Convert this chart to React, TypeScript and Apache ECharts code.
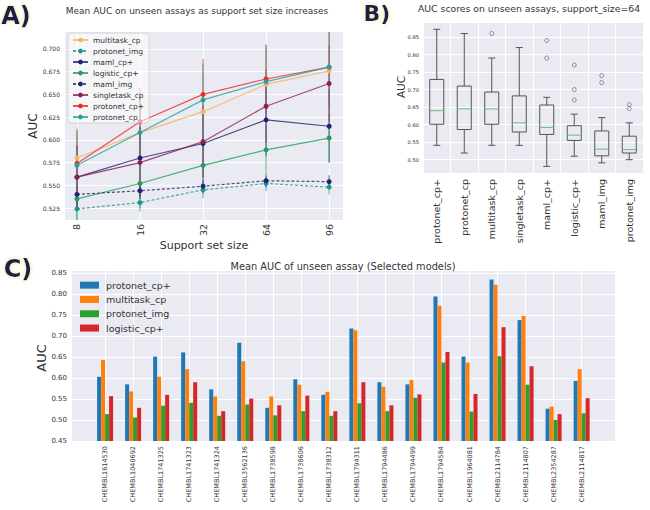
import React, { useEffect, useRef } from 'react';
import * as echarts from 'echarts';

const FONT = 'DejaVu Sans';

// ---------- Panel A ----------
const supportSizes = ['8', '16', '32', '64', '96'];
const modelsA = ['multitask_cp', 'protonet_img', 'maml_cp+', 'logistic_cp+', 'maml_img', 'singletask_cp', 'protonet_cp+', 'protonet_cp'];
const multitaskCp = [0.580, 0.608, 0.631, 0.661, 0.676];
const protonetImg = [0.524, 0.531, 0.545, 0.552, 0.548];
const mamlCpPlus = [0.559, 0.580, 0.596, 0.622, 0.615];
const logisticCpPlus = [0.535, 0.552, 0.572, 0.589, 0.602];
const mamlImg = [0.540, 0.544, 0.549, 0.555, 0.554];
const singletaskCp = [0.559, 0.575, 0.598, 0.637, 0.662];
const protonetCpPlus = [0.574, 0.620, 0.650, 0.667, 0.680];
const protonetCp = [0.572, 0.608, 0.644, 0.664, 0.680];

const multitaskCpStd = [0.034, 0.038, 0.040, 0.040, 0.042];
const protonetImgStd = [0.012, 0.010, 0.009, 0.008, 0.008];
const mamlCpPlusStd = [0.035, 0.035, 0.038, 0.040, 0.040];
const logisticCpPlusStd = [0.025, 0.027, 0.028, 0.027, 0.027];
const mamlImgStd = [0.010, 0.009, 0.008, 0.007, 0.007];
const singletaskCpStd = [0.035, 0.038, 0.040, 0.040, 0.042];
const protonetCpPlusStd = [0.036, 0.037, 0.039, 0.038, 0.040];
const protonetCpStd = [0.040, 0.040, 0.040, 0.040, 0.040];

const colorsA = ['#f9b162', '#1d978a', '#22226e', '#279a62', '#22226e', '#8c1f56', '#ec2a2a', '#2b9f9f'];
const dashedA = [false, true, false, false, true, false, false, false];
const yTicksA = [0.525, 0.55, 0.575, 0.6, 0.625, 0.65, 0.675, 0.7];

// ---------- Panel B ----------
const boxModels = ['protonet_cp+', 'protonet_cp', 'multitask_cp', 'singletask_cp', 'maml_cp+', 'logistic_cp+', 'maml_img', 'protonet_img'];
const boxMin = [0.541, 0.519, 0.541, 0.541, 0.481, 0.510, 0.491, 0.500];
const boxQ1 = [0.601, 0.586, 0.601, 0.579, 0.572, 0.555, 0.511, 0.519];
const boxMedian = [0.640, 0.645, 0.645, 0.605, 0.592, 0.570, 0.530, 0.529];
const boxQ3 = [0.729, 0.710, 0.693, 0.682, 0.656, 0.597, 0.582, 0.567];
const boxMax = [0.872, 0.860, 0.790, 0.820, 0.678, 0.630, 0.620, 0.605];
const outlierCats = [2, 4, 4, 5, 5, 5, 6, 6, 7, 7];
const outlierValues = [0.860, 0.840, 0.790, 0.770, 0.700, 0.670, 0.740, 0.720, 0.657, 0.646];
const yTicksB = [0.5, 0.55, 0.6, 0.65, 0.7, 0.75, 0.8, 0.85];

// ---------- Panel C ----------
const chemblIds = ['CHEMBL1614530', 'CHEMBL1040692', 'CHEMBL1741325', 'CHEMBL1741323', 'CHEMBL1741324', 'CHEMBL3562136', 'CHEMBL1738598', 'CHEMBL1738606', 'CHEMBL1738312', 'CHEMBL1794311', 'CHEMBL1794486', 'CHEMBL1794499', 'CHEMBL1794584', 'CHEMBL1964081', 'CHEMBL2114784', 'CHEMBL2114807', 'CHEMBL2354287', 'CHEMBL2114817'];
const modelsC = ['protonet_cp+', 'multitask_cp', 'protonet_img', 'logistic_cp+'];
const protonetCpPlusC = [0.603, 0.585, 0.651, 0.661, 0.573, 0.684, 0.529, 0.597, 0.560, 0.718, 0.590, 0.585, 0.794, 0.651, 0.835, 0.738, 0.527, 0.593];
const multitaskCpC = [0.643, 0.568, 0.603, 0.621, 0.556, 0.640, 0.556, 0.584, 0.567, 0.714, 0.579, 0.595, 0.772, 0.637, 0.822, 0.748, 0.532, 0.621];
const protonetImgC = [0.514, 0.506, 0.534, 0.541, 0.510, 0.537, 0.511, 0.521, 0.510, 0.540, 0.521, 0.553, 0.637, 0.520, 0.652, 0.584, 0.500, 0.516];
const logisticCpPlusC = [0.557, 0.529, 0.560, 0.590, 0.521, 0.551, 0.535, 0.558, 0.521, 0.590, 0.535, 0.561, 0.662, 0.562, 0.721, 0.628, 0.514, 0.552];
const colorsC = ['#1f77b4', '#ff7f0e', '#2ca02c', '#d62728'];
const yTicksC = [0.45, 0.5, 0.55, 0.6, 0.65, 0.7, 0.75, 0.8, 0.85];

const BG = '#eaeaf2';
const TXT = '#333';
const C_PREFIX = 'C:';

function txt(text: string, x: number, y: number, fontSize: number, opts: any = {}) {
  return {
    type: 'text',
    x,
    y,
    rotation: opts.rotation || 0,
    z: 10,
    style: {
      text,
      fontSize,
      fontFamily: FONT,
      fontWeight: opts.fontWeight || 'normal',
      fill: opts.fill || TXT,
      align: opts.align || 'center',
      textAlign: opts.align || 'center',
      verticalAlign: 'middle',
      textVerticalAlign: 'middle',
      textShadowColor: opts.shadow,
      textShadowBlur: opts.shadow ? 4 : 0,
    },
  };
}

export default function App() {
  const ref = useRef<HTMLDivElement>(null);

  useEffect(() => {
    if (!ref.current) return;
    const chart = echarts.init(ref.current, null, { renderer: 'svg' });

    const seriesA = [multitaskCp, protonetImg, mamlCpPlus, logisticCpPlus, mamlImg, singletaskCp, protonetCpPlus, protonetCp];
    const stdA = [multitaskCpStd, protonetImgStd, mamlCpPlusStd, logisticCpPlusStd, mamlImgStd, singletaskCpStd, protonetCpPlusStd, protonetCpStd];
    const seriesC = [protonetCpPlusC, multitaskCpC, protonetImgC, logisticCpPlusC];

    const errData: number[][] = [];
    seriesA.forEach((arr, k) => {
      arr.forEach((v, i) => errData.push([i, v - stdA[k][i], v + stdA[k][i], k]));
    });

    const boxData = boxModels.map((_, i) => [i, boxMin[i], boxQ1[i], boxMedian[i], boxQ3[i], boxMax[i]]);
    const outlierData = outlierCats.map((c, i) => [c, outlierValues[i]]);

    const split = { show: true, lineStyle: { color: '#ffffff', width: 1 } };
    const label = (size: number, extra: any = {}) => ({ fontSize: size, color: TXT, fontFamily: FONT, ...extra });

    const option: any = {
      animation: false,
      backgroundColor: '#ffffff',
      textStyle: { fontFamily: FONT },
      grid: [
        { left: 65, top: 32, width: 278, height: 188, show: true, backgroundColor: BG, borderWidth: 0 },
        { left: 423, top: 23, width: 220, height: 150, show: true, backgroundColor: BG, borderWidth: 0 },
        { left: 72, top: 271, width: 543, height: 170, show: true, backgroundColor: BG, borderWidth: 0 },
      ],
      xAxis: [
        {
          type: 'value', gridIndex: 0, min: -0.19, max: 4.22,
          axisLine: { show: false },
          axisTick: { show: false, customValues: [0, 1, 2, 3, 4] },
          axisLabel: label(9.5, { customValues: [0, 1, 2, 3, 4], rotate: 90, margin: 4, formatter: (v: number) => supportSizes[Math.round(v)] }),
          splitLine: split,
        },
        {
          type: 'category', gridIndex: 1, data: boxModels,
          axisLine: { show: false },
          axisTick: { show: false },
          axisLabel: label(9.5, { rotate: 90, margin: 6, interval: 0 }),
          splitLine: { ...split, interval: 0 },
        },
        {
          type: 'value', gridIndex: 2, min: -1.18, max: 18.19,
          axisLine: { show: false },
          axisTick: { show: false, customValues: chemblIds.map((_, i) => i) },
          axisLabel: label(6.5, { customValues: chemblIds.map((_, i) => i), rotate: 90, margin: 5, formatter: (v: number) => chemblIds[Math.round(v)] }),
          splitLine: split,
        },
      ],
      yAxis: [
        {
          type: 'value', gridIndex: 0, min: 0.5118, max: 0.7187,
          axisLine: { show: false },
          axisTick: { show: false, customValues: yTicksA },
          axisLabel: label(6, { customValues: yTicksA, margin: 5, formatter: (v: number) => v.toFixed(3) }),
          splitLine: split,
        },
        {
          type: 'value', gridIndex: 1, min: 0.462, max: 0.890,
          axisLine: { show: false },
          axisTick: { show: false, customValues: yTicksB },
          axisLabel: label(5.2, { customValues: yTicksB, margin: 4, formatter: (v: number) => v.toFixed(2) }),
          splitLine: split,
        },
        {
          type: 'value', gridIndex: 2, min: 0.45, max: 0.855,
          axisLine: { show: false },
          axisTick: { show: false, customValues: yTicksC },
          axisLabel: label(7, { customValues: yTicksC, margin: 5, formatter: (v: number) => v.toFixed(2) }),
          splitLine: split,
        },
      ],
      legend: [
        {
          data: modelsA,
          orient: 'vertical',
          left: 68, top: 33,
          padding: [3, 5, 2, 4],
          backgroundColor: 'rgba(255,255,255,0.55)',
          borderColor: 'rgba(200,200,200,0.9)',
          borderWidth: 0.8,
          borderRadius: 3,
          itemWidth: 15, itemHeight: 6, itemGap: 3,
          textStyle: { fontSize: 7.5, color: TXT, fontFamily: FONT, lineHeight: 8 },
        },
        {
          data: modelsC.map((n) => ({ name: C_PREFIX + n, icon: 'rect' })),
          formatter: (name: string) => name.replace(C_PREFIX, ''),
          orient: 'vertical',
          left: 80, top: 280,
          padding: 0,
          itemWidth: 19, itemHeight: 7, itemGap: 4,
          textStyle: { fontSize: 9.5, color: TXT, fontFamily: FONT, lineHeight: 10.3, padding: [0, 0, 0, 2] },
        },
      ],
      series: [
        {
          type: 'custom', name: 'errA', xAxisIndex: 0, yAxisIndex: 0, clip: true, z: 2,
          data: errData,
          encode: { x: 0, y: [1, 2] },
          renderItem: (params: any, api: any) => {
            const i = api.value(0);
            const p1 = api.coord([i, api.value(1)]);
            const p2 = api.coord([i, api.value(2)]);
            const k = api.value(3);
            return {
              type: 'line',
              shape: { x1: p1[0], y1: p1[1], x2: p2[0], y2: p2[1] },
              style: { stroke: colorsA[k], lineWidth: 1, opacity: 0.75 },
            };
          },
        },
        ...modelsA.map((name, k) => ({
          type: 'line', name, xAxisIndex: 0, yAxisIndex: 0, z: 3,
          data: seriesA[k].map((v, i) => [i, v]),
          symbol: 'circle', symbolSize: 5, showSymbol: true,
          lineStyle: { color: colorsA[k], width: 1.2, type: dashedA[k] ? [3, 2] : 'solid', opacity: 0.8 },
          itemStyle: { color: colorsA[k] },
        })),
        {
          type: 'custom', name: 'boxes', xAxisIndex: 1, yAxisIndex: 1, z: 3,
          data: boxData,
          encode: { x: 0, y: [1, 2, 3, 4, 5] },
          renderItem: (params: any, api: any) => {
            const i = api.value(0);
            const pMin = api.coord([i, api.value(1)]);
            const pQ1 = api.coord([i, api.value(2)]);
            const pMed = api.coord([i, api.value(3)]);
            const pQ3 = api.coord([i, api.value(4)]);
            const pMax = api.coord([i, api.value(5)]);
            const x = pMed[0];
            const hw = 7;
            const cw = 3.5;
            const st = { stroke: '#555555', lineWidth: 1, fill: 'none' };
            return {
              type: 'group',
              children: [
                { type: 'line', shape: { x1: x, y1: pQ1[1], x2: x, y2: pMin[1] }, style: st },
                { type: 'line', shape: { x1: x, y1: pQ3[1], x2: x, y2: pMax[1] }, style: st },
                { type: 'line', shape: { x1: x - cw, y1: pMin[1], x2: x + cw, y2: pMin[1] }, style: st },
                { type: 'line', shape: { x1: x - cw, y1: pMax[1], x2: x + cw, y2: pMax[1] }, style: st },
                { type: 'rect', shape: { x: x - hw, y: pQ3[1], width: 2 * hw, height: pQ1[1] - pQ3[1] }, style: { stroke: '#555555', lineWidth: 1, fill: 'rgba(0,0,0,0)' } },
                { type: 'line', shape: { x1: x - hw, y1: pMed[1], x2: x + hw, y2: pMed[1] }, style: { stroke: '#6cc28e', lineWidth: 1.1 } },
              ],
            };
          },
        },
        {
          type: 'scatter', name: 'outliers', xAxisIndex: 1, yAxisIndex: 1, z: 4,
          data: outlierData,
          symbol: 'circle', symbolSize: 4,
          itemStyle: { color: 'rgba(0,0,0,0)', borderColor: '#555555', borderWidth: 0.8 },
        },
        ...modelsC.map((name, k) => ({
          type: 'bar', name: C_PREFIX + name, xAxisIndex: 2, yAxisIndex: 2, z: 3,
          data: seriesC[k].map((v, i) => [i, v]),
          barWidth: 4, barGap: '0%',
          itemStyle: { color: colorsC[k] },
        })),
      ],
      graphic: [
        txt('A)', 16, 16, 24, { fontWeight: 'bold', fill: '#1b1b4d', shadow: '#e6e28a' }),
        txt('B)', 377, 13, 22, { fontWeight: 'bold', fill: '#1b1b4d', shadow: '#e6e28a' }),
        txt('C)', 18, 269, 24, { fontWeight: 'bold', fill: '#1b1b4d', shadow: '#e6e28a' }),
        txt('Mean AUC on unseen assays as support set size increases', 197, 11, 9),
        txt('AUC scores on unseen assays, support_size=64', 529, 8, 9.3),
        txt('Mean AUC of unseen assay (Selected models)', 343, 266, 9.8),
        txt('Support set size', 204, 245, 11),
        txt('AUC', 33, 126, 12, { rotation: Math.PI / 2 }),
        txt('AUC', 401, 87, 10.5, { rotation: Math.PI / 2 }),
        txt('AUC', 41, 358, 13, { rotation: Math.PI / 2 }),
      ],
    };

    chart.setOption(option);
    return () => chart.dispose();
  }, []);

  return (
    <div
      ref={ref}
      style={{ position: 'absolute', left: 0, top: 0, width: 650, height: 510, background: '#fff' }}
    />
  );
}
